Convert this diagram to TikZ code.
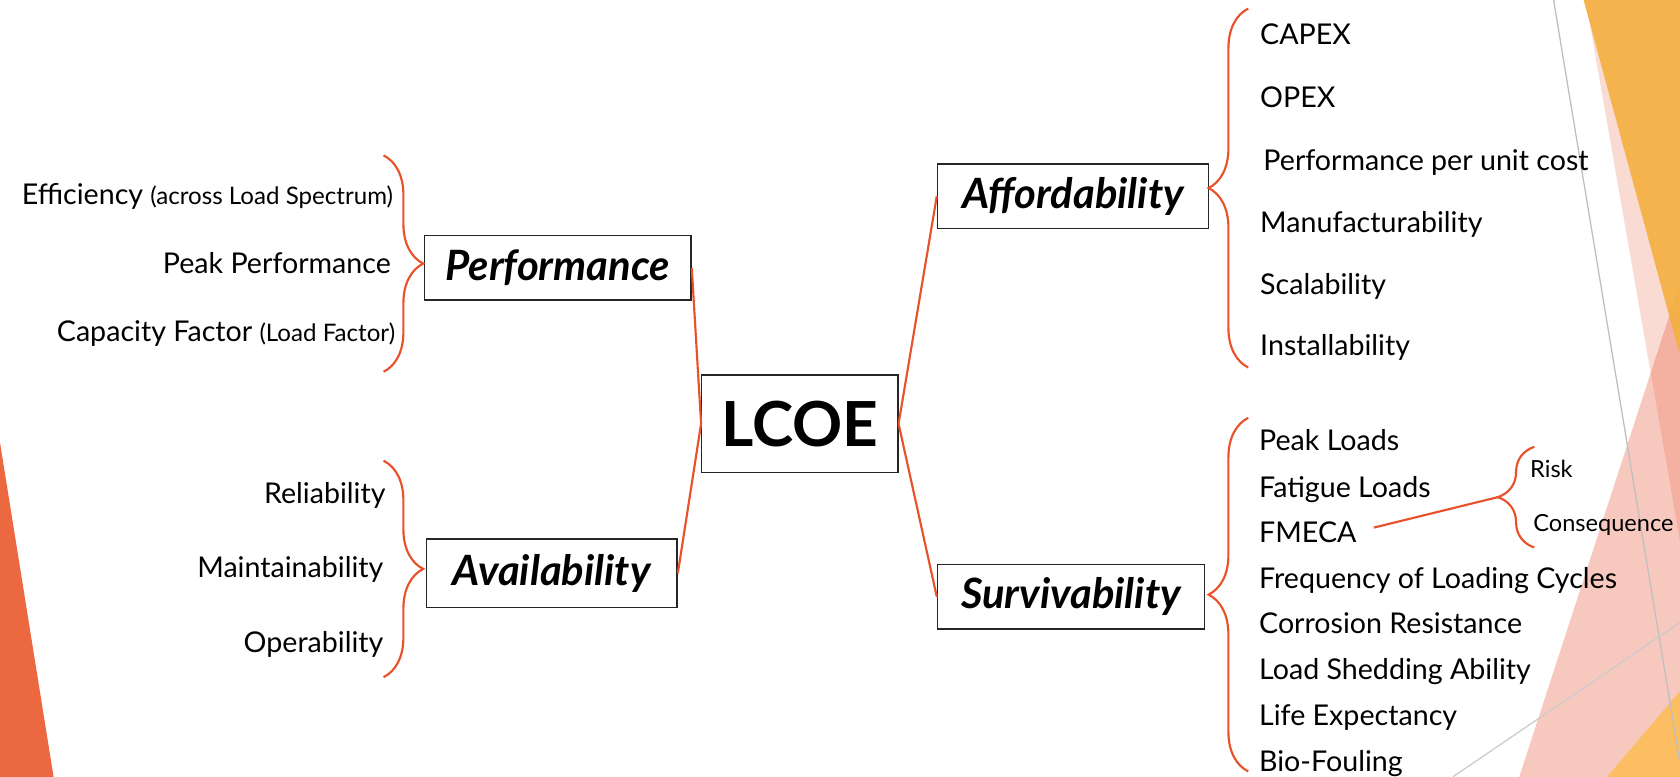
\documentclass[tikz,border=0pt]{standalone}
\usepackage{fontspec}
\setmainfont{Lato}
\usetikzlibrary{decorations.pathreplacing}
\definecolor{brick}{HTML}{E8522A}
\definecolor{tangerine}{HTML}{F4B042}
\definecolor{coral}{HTML}{EB6841}
\definecolor{blush}{HTML}{E8593A}
\definecolor{honey}{HTML}{FBBE62}
\tikzset{
  itm/.style={inner sep=0pt, font=\fontsize{26.7}{30}\selectfont},
  tiny/.style={inner sep=0pt, font=\fontsize{22}{26}\selectfont},
  pillar/.style={draw=black!85, line width=1.3pt, inner sep=0pt, minimum height=60pt,
    font=\fontsize{39}{44}\selectfont\bfseries\itshape},
  hub/.style={draw=black!85, line width=1.3pt, inner sep=0pt, minimum width=183pt,
    minimum height=91pt, font=\fontsize{58}{66}\selectfont\bfseries},
  brc/.style={draw=brick, line width=2pt, decorate, decoration={brace, amplitude=37pt}},
  link/.style={draw=brick, line width=2pt}
}
\begin{document}
\begin{tikzpicture}[x=1pt, y=-1pt]
  \useasboundingbox (0,0) rectangle (1568,725);
  % backdrop
  \fill[coral] (0,413) -- (50,725) -- (0,725) -- cycle;
  \fill[blush, opacity=0.33] (1418,725) -- (1568,264) -- (1568,725) -- cycle;
  \fill[blush, opacity=0.22] (1480,0) -- (1568,0) -- (1568,505) -- cycle;
  \fill[tangerine, opacity=0.92] (1478,0) -- (1568,0) -- (1568,332) -- cycle;
  \fill[honey] (1500,725) -- (1568,645) -- (1568,725) -- cycle;
  \draw[black!25, line width=1.2pt] (1450,0) -- (1568,712);
  \draw[black!20, line width=1.2pt] (1356,725) -- (1568,581);

  % boxes
  \node[hub] (lcoe) at (746.5,395.5) {LCOE};
  \node[pillar, minimum width=249pt] (perf) at (520.5,250) {Performance};
  \node[pillar, minimum width=234pt, minimum height=64pt] (avail) at (515,535) {Availability};
  \node[pillar, minimum width=253pt] (afford) at (1001.5,183) {Affordability};
  \node[pillar, minimum width=249pt] (surv) at (999.5,557) {Survivability};

  % performance
  \node[itm, anchor=base east] (eff) at (367,191) {Efficiency {\fontsize{22.5}{26}\selectfont(across Load Spectrum)}};
  \node[itm, anchor=base east] (peakperf) at (365,255) {Peak Performance};
  \node[itm, anchor=base east] (capfac) at (369,319) {Capacity Factor {\fontsize{22.5}{26}\selectfont(Load Factor)}};
  \draw[brc] (358,145) -- (358,347);

  % availability
  \node[itm, anchor=base east] (rel) at (360,470) {Reliability};
  \node[itm, anchor=base east] (maint) at (358,539) {Maintainability};
  \node[itm, anchor=base east] (oper) at (358,609) {Operability};
  \draw[brc] (358,430) -- (358,632);

  % affordability
  \node[itm, anchor=base west] (capex) at (1176,42) {CAPEX};
  \node[itm, anchor=base west] (opex) at (1176,100) {OPEX};
  \node[itm, anchor=base west] (perfcost) at (1179,159) {Performance per unit cost};
  \node[itm, anchor=base west] (manuf) at (1176,217) {Manufacturability};
  \node[itm, anchor=base west] (scal) at (1176,275) {Scalability};
  \node[itm, anchor=base west] (inst) at (1176,332) {Installability};
  \draw[brc] (1165,343) -- (1165,8);

  % survivability
  \node[itm, anchor=base west] (peakld) at (1175,420) {Peak Loads};
  \node[itm, anchor=base west] (fatld) at (1175,464) {Fatigue Loads};
  \node[itm, anchor=base west] (fmeca) at (1175,506) {FMECA};
  \node[itm, anchor=base west] (freq) at (1175,549) {Frequency of Loading Cycles};
  \node[itm, anchor=base west] (corr) at (1175,591) {Corrosion Resistance};
  \node[itm, anchor=base west] (shed) at (1175,634) {Load Shedding Ability};
  \node[itm, anchor=base west] (life) at (1175,677) {Life Expectancy};
  \node[itm, anchor=base west] (bio) at (1175,720) {Bio-Fouling};
  \draw[brc] (1165,720) -- (1165,390);

  % fmeca
  \node[tiny, anchor=base west] (risk) at (1428,446) {Risk};
  \node[tiny, anchor=base west] (conseq) at (1431,496) {Consequence};
  \draw[brc, decoration={brace, amplitude=34pt}] (1432,511) -- (1432,417);
  \coordinate (risktip) at (1398,464);
  \draw[link] ([xshift=16pt, yshift=4pt]fmeca.east) -- (risktip);

  % links
  \draw[link] (perf.east) -- (lcoe.west);
  \draw[link] (avail.east) -- (lcoe.west);
  \draw[link] (lcoe.east) -- (afford.west);
  \draw[link] (lcoe.east) -- (surv.west);
\end{tikzpicture}
\end{document}
